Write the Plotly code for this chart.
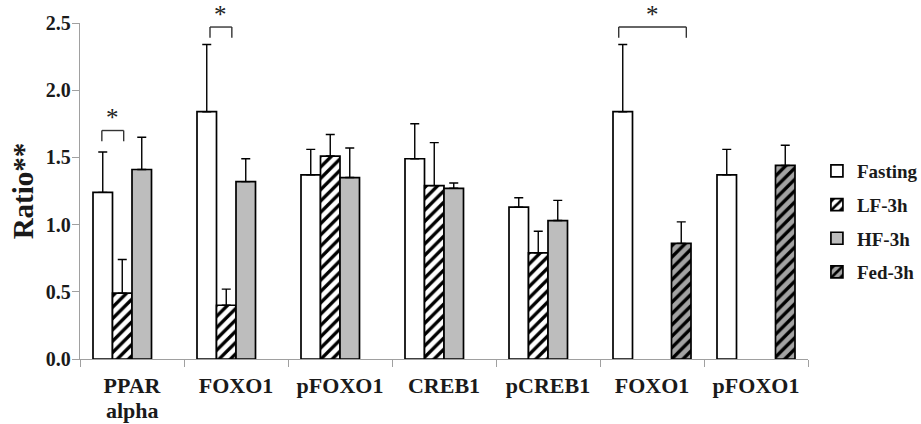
import plotly.graph_objects as go

categories = ["PPAR", "FOXO1", "pFOXO1", "CREB1", "pCREB1", "FOXO1", "pFOXO1"]
category_second_line = ["alpha", "", "", "", "", "", ""]
fasting = [1.24, 1.84, 1.37, 1.49, 1.13, 1.84, 1.37]
fasting_err = [0.30, 0.50, 0.19, 0.26, 0.07, 0.50, 0.19]
lf3h = [0.49, 0.40, 1.51, 1.29, 0.79, None, None]
lf3h_err = [0.25, 0.12, 0.16, 0.32, 0.16, None, None]
hf3h = [1.41, 1.32, 1.35, 1.27, 1.03, None, None]
hf3h_err = [0.24, 0.17, 0.22, 0.04, 0.15, None, None]
fed3h = [None, None, None, None, None, 0.86, 1.44]
fed3h_err = [None, None, None, None, None, 0.16, 0.15]
y_ticks = [0.0, 0.5, 1.0, 1.5, 2.0, 2.5]

# significance brackets: (category index, left offset, right offset, top, leg bottom)
brackets = [(0, -0.29, -0.08, 1.70, 1.62), (1, -0.25, -0.04, 2.47, 2.39), (5, -0.32, 0.33, 2.47, 2.39)]

FONT = "Liberation Serif, Times New Roman, serif"
x = list(range(len(categories)))

fig = go.Figure()

def add(name, vals, errs, color, pattern=None):
    marker = dict(color=color, line=dict(color="black", width=1.7))
    if pattern:
        marker["pattern"] = pattern
    fig.add_trace(go.Bar(
        name=name, x=x, y=vals, marker=marker,
        error_y=dict(type="data", array=errs, arrayminus=[0 if e is not None else None for e in errs],
                     symmetric=False, color="black", thickness=1.4, width=4.5),
        legendgroup=name,
    ))

add("Fasting", fasting, fasting_err, "white")
add("LF-3h", lf3h, lf3h_err, "white",
    dict(shape="/", fgcolor="black", bgcolor="white", size=8, solidity=0.42, fillmode="replace"))
add("HF-3h", hf3h, hf3h_err, "#bdbdbd")
add("Fed-3h", fed3h, fed3h_err, "#a3a3a3",
    dict(shape="/", fgcolor="black", bgcolor="#a3a3a3", size=8, solidity=0.42, fillmode="replace"))

shapes = []
annotations = []
ymax = 2.5
for ci, lo, hi, top, bot in brackets:
    x0, x1 = ci + lo, ci + hi
    for (a, b, c, d) in [(x0, bot, x0, top), (x0, top, x1, top), (x1, top, x1, bot)]:
        shapes.append(dict(type="line", xref="x", yref="paper", x0=a, y0=b / ymax, x1=c, y1=d / ymax,
                           line=dict(color="#333333", width=1.4)))
    annotations.append(dict(x=(x0 + x1) / 2, y=(top + 0.10) / ymax, xref="x", yref="paper", text="*",
                            showarrow=False, yanchor="middle", height=20, valign="middle",
                            font=dict(family=FONT, size=25, color="#222")))

for i, t in enumerate(category_second_line):
    if t:
        annotations.append(dict(x=i, y=-0.152, xref="x", yref="paper", text=t, showarrow=False,
                                yanchor="middle",
                                font=dict(family=FONT, size=22, weight="bold", color="#1a1a1a")))

fig.update_layout(
    width=921, height=424,
    margin=dict(l=80, r=113, t=23, b=65, autoexpand=False),
    plot_bgcolor="white", paper_bgcolor="white",
    barmode="group", bargap=0.25, bargroupgap=0,
    font=dict(family=FONT, color="#1a1a1a"),
    shapes=shapes, annotations=annotations,
    showlegend=True,
    legend=dict(xref="container", yref="container", x=0.887, y=0.6415, xanchor="left", yanchor="top",
                bgcolor="rgba(0,0,0,0)",
                font=dict(family=FONT, size=19, weight="bold", color="#1a1a1a"),
                traceorder="grouped", tracegroupgap=6, itemwidth=30),
    xaxis=dict(range=[-0.5, 6.5], tickmode="array", tickvals=x, ticktext=categories,
               showline=True, linecolor="#a0a0a0", linewidth=1.3, ticks="", automargin=False,
               ticklabelstandoff=6,
               tickfont=dict(family=FONT, size=22, weight="bold", color="#1a1a1a"),
               minor=dict(tickmode="linear", tick0=-0.5, dtick=1, ticks="outside", ticklen=7,
                          tickcolor="#a0a0a0", tickwidth=1.3, showgrid=False),
               showgrid=False, zeroline=False),
    yaxis=dict(range=[0, 2.5], tickmode="array", tickvals=y_ticks, tickformat=".1f",
               showline=True, linecolor="#a0a0a0", linewidth=1.3, ticks="outside", ticklen=7,
               tickcolor="#a0a0a0", tickwidth=1.3, automargin=False, ticklabelstandoff=-3,
               tickfont=dict(family=FONT, size=20, weight="bold", color="#1a1a1a"),
               title=dict(text="Ratio**", font=dict(family=FONT, size=29, weight="bold", color="#1a1a1a"),
                          standoff=3),
               showgrid=False, zeroline=False),
)

fig.write_html("out.html", config={"displayModeBar": False},
               post_script="document.body.style.margin='0';")
